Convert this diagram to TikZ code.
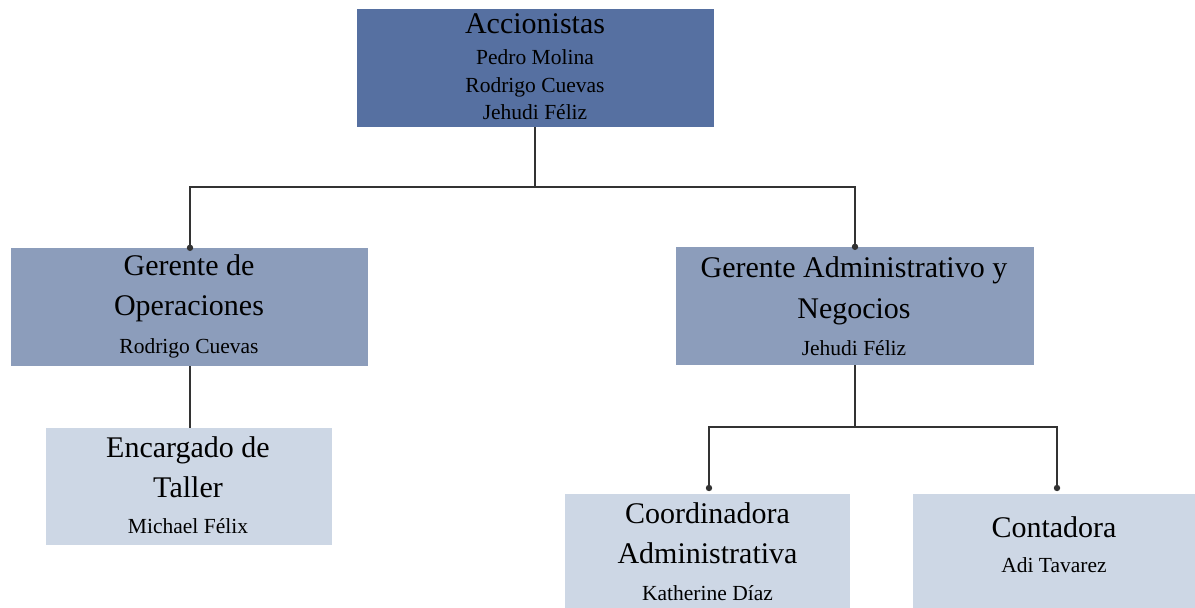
\documentclass[tikz,border=0pt]{standalone}
\usepackage{fontspec}
\setmainfont{Liberation Serif}
\definecolor{lvA}{HTML}{5670A1}
\definecolor{lvB}{HTML}{8C9DBB}
\definecolor{lvC}{HTML}{CDD7E5}
\definecolor{wire}{HTML}{333333}
\tikzset{
  box/.style={rectangle, inner sep=0pt, draw=none},
  top/.style={box, fill=lvA},
  mid/.style={box, fill=lvB},
  low/.style={box, fill=lvC},
  ttl/.style={anchor=base, inner sep=0pt, font=\fontsize{30}{30}\selectfont},
  who/.style={anchor=base, inner sep=0pt, font=\fontsize{21.5}{21.5}\selectfont},
  link/.style={draw=wire, line width=1.5pt},
  dot/.style={fill=wire}
}
\begin{document}
\begin{tikzpicture}[x=1pt, y=-1pt]
\useasboundingbox (0,0) rectangle (1195,608);
\begin{scope}
\clip (0,0) rectangle (1195,608);
% boxes
\node[top, minimum width=357pt, minimum height=118pt] (acc) at (535,68) {};
\node[mid, minimum width=357pt, minimum height=118pt] (gop) at (189.5,307) {};
\node[mid, minimum width=358pt, minimum height=118pt] (gad) at (855,306) {};
\node[low, minimum width=286pt, minimum height=117pt] (enc) at (189,486.5) {};
\node[low, minimum width=285pt, minimum height=117pt] (coo) at (707.5,552.5) {};
\node[low, minimum width=287pt, minimum height=117pt] (con) at (1056.5,552.5) {};
\end{scope}

% texts
\node[ttl] (acc-t) at (535,33) {Accionistas};
\node[who] (acc-a) at (535,64) {Pedro Molina};
\node[who] (acc-b) at (535,92) {Rodrigo Cuevas};
\node[who] (acc-c) at (535,119) {Jehudi Féliz};

\node[ttl] (gop-t1) at (189,275) {Gerente de};
\node[ttl] (gop-t2) at (189,315) {Operaciones};
\node[who] (gop-a) at (189,353) {Rodrigo Cuevas};

\node[ttl] (gad-t1) at (854,277) {Gerente Administrativo y};
\node[ttl] (gad-t2) at (854,318) {Negocios};
\node[who] (gad-a) at (854,355) {Jehudi Féliz};

\node[ttl] (enc-t1) at (188,457) {Encargado de};
\node[ttl] (enc-t2) at (188,497) {Taller};
\node[who] (enc-a) at (188,533) {Michael Félix};

\node[ttl] (coo-t1) at (707.5,523) {Coordinadora};
\node[ttl] (coo-t2) at (707.5,563) {Administrativa};
\node[who] (coo-a) at (707.5,600) {Katherine Díaz};

\node[ttl] (con-t) at (1054,537) {Contadora};
\node[who] (con-a) at (1054,572) {Adi Tavarez};

% connectors
\coordinate (busA) at (0,187);
\coordinate (busB) at (0,427);
\coordinate (tipC) at (709,488);
\coordinate (tipD) at (1057,488);
\coordinate (legL) at (190,0);

\draw[link] (acc.south) -- (acc.south |- busA);
\draw[link] (legL |- gop.north) -- (legL |- busA) -- (gad.north |- busA) -- (gad.north);
\fill[dot] (legL |- gop.north) circle (3.2pt);
\fill[dot] (gad.north) circle (3.2pt);

\draw[link] (legL |- gop.south) -- (legL |- enc.north);

\draw[link] (gad.south) -- (gad.south |- busB);
\draw[link] (tipC) -- (tipC |- busB) -- (tipD |- busB) -- (tipD);
\fill[dot] (tipC) circle (3.2pt);
\fill[dot] (tipD) circle (3.2pt);
\end{tikzpicture}
\end{document}
